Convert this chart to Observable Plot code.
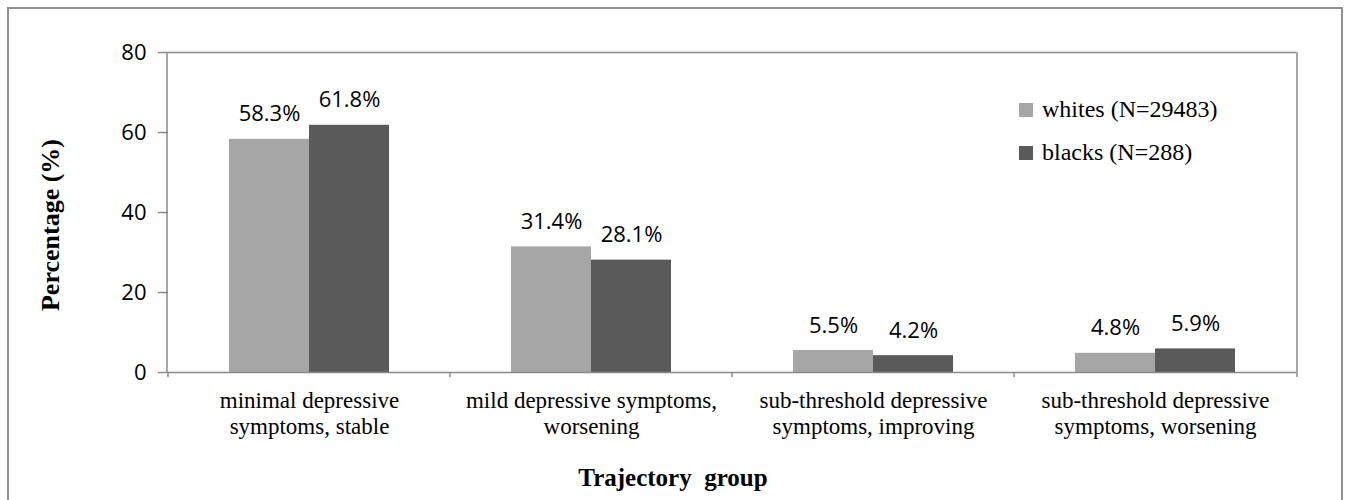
<!DOCTYPE html>
<html><head><meta charset="utf-8">
<script src="https://cdn.jsdelivr.net/npm/d3@7"></script>
<script src="https://cdn.jsdelivr.net/npm/@observablehq/plot@0.6"></script>
<style>
body{margin:0;background:#fff;}
#wrap{position:relative;width:1350px;height:500px;overflow:hidden;background:#fff;}
#border{position:absolute;left:7px;top:7px;width:1336px;height:530px;border:2px solid #8f8f8f;box-sizing:border-box;}
#chart{position:absolute;left:0;top:0;}
.serif{font-family:"Liberation Serif","Times New Roman",serif;color:#000;}
#ytitle{position:absolute;left:51px;top:225px;transform:translate(-50%,-50%) rotate(-90deg);font-weight:bold;font-size:26px;white-space:nowrap;line-height:1;}
#xtitle{position:absolute;left:673px;top:477px;transform:translate(-50%,-50%);font-weight:bold;font-size:25px;white-space:nowrap;line-height:1;}
#legend{position:absolute;left:1019px;top:88px;font-size:24px;}
.li{display:flex;align-items:center;height:43px;}
.sw{width:14px;height:14px;margin-right:9px;flex:none;}
</style></head>
<body><div id="wrap"><div id="border"></div><div id="chart"></div>
<div id="ytitle" class="serif">Percentage (%)</div>
<div id="xtitle" class="serif">Trajectory&nbsp; group</div>
<div id="legend" class="serif"></div>
</div>
<script>
const categories = [
  "minimal depressive\nsymptoms, stable",
  "mild depressive symptoms,\nworsening",
  "sub-threshold depressive\nsymptoms, improving",
  "sub-threshold depressive\nsymptoms, worsening"
];
const seriesKeys = ["whites", "blacks"];
const seriesLabels = ["whites (N=29483)", "blacks (N=288)"];
const whites = [58.3, 31.4, 5.5, 4.8];
const blacks = [61.8, 28.1, 4.2, 5.9];
const yTicks = [0, 20, 40, 60, 80];
const colors = ["#a6a6a6", "#5a5a5a"];

const values = {whites, blacks};
const rows = [];
categories.forEach((c, i) => seriesKeys.forEach(s => rows.push({category: c, series: s, value: values[s][i]})));

const axisColor = "#8a8a8a";
const plot = Plot.plot({
  width: 1350, height: 500,
  marginLeft: 167, marginRight: 53, marginTop: 52, marginBottom: 128,
  style: {fontFamily: "'Open Sans', sans-serif", background: "transparent", color: "#000"},
  fx: {domain: categories, paddingInner: 0, paddingOuter: 0, label: null},
  x: {domain: seriesKeys, paddingInner: 0, paddingOuter: 0.755, axis: null},
  y: {domain: [0, 80], label: null},
  color: {domain: seriesKeys, range: colors},
  marks: [
    Plot.barY(rows, {fx: "category", x: "series", y: "value", fill: "series"}),
    Plot.text(rows, {fx: "category", x: "series", y: "value", text: d => d.value.toFixed(1) + "%",
      lineAnchor: "bottom", dy: -18, fontSize: 22, fill: "#000"}),
    Plot.ruleY([0], {stroke: axisColor, strokeWidth: 1.5}),
    Plot.ruleY([80], {stroke: axisColor, strokeWidth: 1.5}),
    Plot.axisY({ticks: yTicks, tickSize: 10, tickPadding: 12, fontSize: 22, stroke: axisColor, fill: "#000", label: null, strokeWidth: 1.5}),
    Plot.axisFx({anchor: "bottom", tickSize: 0, tickPadding: 17, fontSize: 23, lineHeight: 1.13, fontFamily: "'Liberation Serif', serif", fill: "#000", label: null})
  ]
});
document.getElementById("chart").appendChild(plot);

// frame sides and category boundary ticks from the library's scales
const fx = plot.scale("fx"), y = plot.scale("y");
const svg = d3.select(plot);
const x0 = fx.range[0], x1 = fx.range[1];
const yTop = y.apply(80), yBot = y.apply(0);
const g = svg.append("g").attr("stroke", axisColor).attr("stroke-width", 1.5);
g.append("line").attr("x1", x0).attr("x2", x0).attr("y1", yTop).attr("y2", yBot);
g.append("line").attr("x1", x1).attr("x2", x1).attr("y1", yTop).attr("y2", yBot);
const bounds = categories.map(c => fx.apply(c)).concat([x1]);
bounds.forEach(b => g.append("line").attr("x1", b).attr("x2", b).attr("y1", yBot).attr("y2", yBot + 5));

// legend
const leg = document.getElementById("legend");
seriesLabels.forEach((l, i) => {
  const d = document.createElement("div"); d.className = "li";
  d.innerHTML = `<span class="sw" style="background:${colors[i]}"></span><span>${l}</span>`;
  leg.appendChild(d);
});
</script>
</body></html>
